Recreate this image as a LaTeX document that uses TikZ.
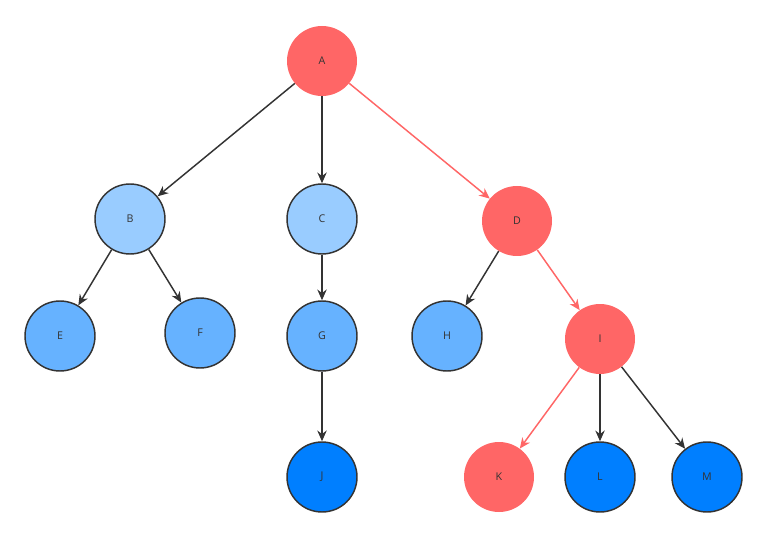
\documentclass[tikz,border=0pt]{standalone}
\usepackage{fontspec}
\setmainfont{Open Sans}
\usetikzlibrary{arrows.meta}
\definecolor{red1}{HTML}{FF6666}
\definecolor{lb}{HTML}{99CCFF}
\definecolor{mb}{HTML}{66B2FF}
\definecolor{db}{HTML}{007FFF}
\definecolor{ink}{HTML}{333333}
\begin{document}
\begin{tikzpicture}[x=0.75pt,y=-0.75pt,
  nd/.style={circle,minimum size=52.5pt,inner sep=0pt,font=\fontsize{8}{9}\selectfont,text=ink},
  rn/.style={nd,fill=red1},
  bn/.style={nd,draw=ink,line width=1.1pt,fill=#1},
  e/.style={-{Stealth[length=8pt,width=7pt]},line width=1.1pt,draw=ink},
  re/.style={e,draw=red1}]
\useasboundingbox (0,0) rectangle (767,538);
\node[rn] (A) at (322,61) {A};
\node[bn=lb] (B) at (130,219) {B};
\node[bn=lb] (C) at (322,219) {C};
\node[rn] (D) at (517,221) {D};
\node[bn=mb] (E) at (60,336) {E};
\node[bn=mb] (F) at (200,333) {F};
\node[bn=mb] (G) at (322,336) {G};
\node[bn=mb] (H) at (447,336) {H};
\node[rn] (I) at (600,339) {I};
\node[bn=db] (J) at (322,477) {J};
\node[rn] (K) at (499,477) {K};
\node[bn=db] (L) at (600,477) {L};
\node[bn=db] (M) at (707,477) {M};
\draw[e] (A) -- (B);
\draw[e] (A) -- (C);
\draw[re] (A) -- (D);
\draw[e] (B) -- (E);
\draw[e] (B) -- (F);
\draw[e] (C) -- (G);
\draw[e] (G) -- (J);
\draw[e] (D) -- (H);
\draw[re] (D) -- (I);
\draw[re] (I) -- (K);
\draw[e] (I) -- (L);
\draw[e] (I) -- (M);
\end{tikzpicture}
\end{document}
